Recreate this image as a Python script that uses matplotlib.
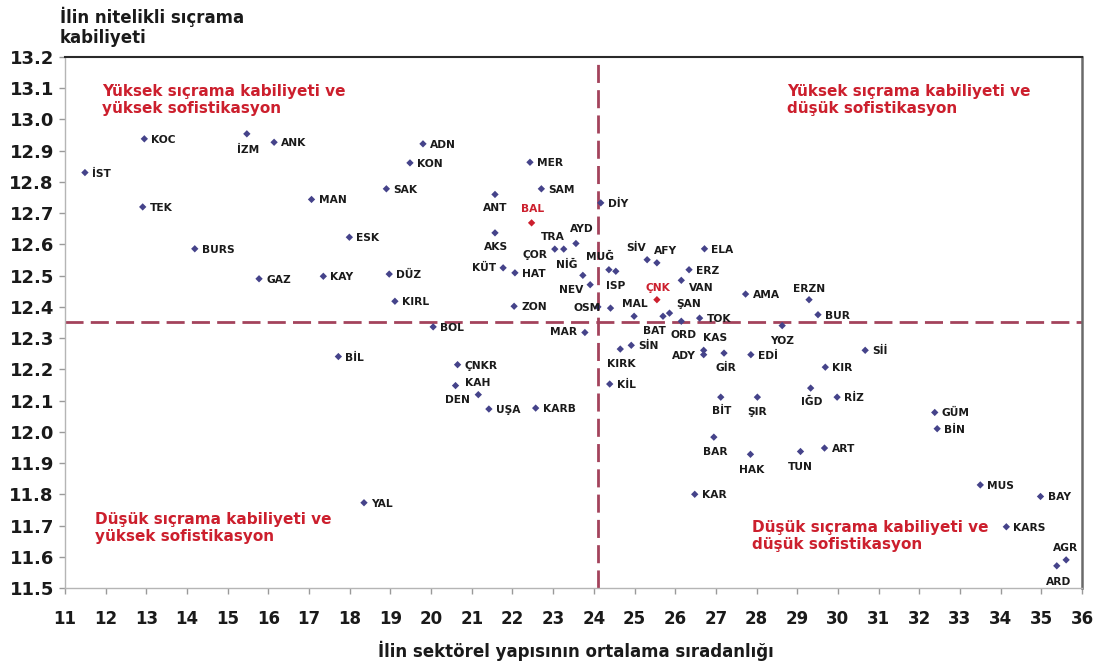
import matplotlib
matplotlib.use("Agg")
import matplotlib.pyplot as plt

# ---------------- data ----------------
names = ["İST", "KOC", "TEK", "İZM", "ANK", "MAN", "BURS", "GAZ", "KAY", "ESK",
         "SAK", "KON", "ADN", "DÜZ", "KIRL", "BOL", "BİL", "ÇNKR", "KAH", "DEN",
         "UŞA", "KARB", "YAL", "MER", "SAM", "ANT", "BAL", "AKS", "ÇOR", "TRA",
         "AYD", "KÜT", "HAT", "NİĞ", "MUĞ", "ISP", "NEV", "ZON", "OSM", "MAL",
         "MAR", "DİY", "SİV", "AFY", "ELA", "ERZ", "VAN", "ÇNK", "ŞAN", "",
         "AMA", "ERZN", "BUR", "BAT", "ORD", "TOK", "KAS", "ADY", "GİR", "SİN",
         "KIRK", "KİL", "EDİ", "YOZ", "Sİİ", "KIR", "IĞD", "RİZ", "BİT", "ŞIR",
         "BAR", "HAK", "TUN", "ART", "KAR", "GÜM", "BİN", "MUS", "BAY", "KARS",
         "AGR", "ARD"]

sophistication_rank = [
    11.49, 12.95, 12.91, 15.47, 16.14, 17.06, 14.19, 15.77, 17.35, 17.99,
    18.90, 19.48, 19.80, 18.97, 19.11, 20.05, 17.72, 20.65, 20.60, 21.16,
    21.42, 22.57, 18.35, 22.43, 22.71, 21.57, 22.47, 21.57, 23.04, 23.26,
    23.56, 21.77, 22.06, 23.73, 24.37, 24.54, 23.91, 22.04, 24.10, 24.41,
    23.78, 24.17, 25.31, 25.55, 26.72, 26.34, 26.15, 25.55, 25.86, 25.70,
    27.73, 29.29, 29.51, 24.99, 26.15, 26.60, 26.70, 26.70, 27.20, 24.92,
    24.65, 24.39, 27.86, 28.63, 30.67, 29.69, 29.33, 29.98, 27.12, 28.02,
    26.95, 27.85, 29.08, 29.67, 26.48, 32.38, 32.44, 33.50, 34.98, 34.14,
    35.61, 35.38]

jump_capability = [
    12.830, 12.938, 12.720, 12.954, 12.927, 12.744, 12.586, 12.490, 12.498, 12.623,
    12.778, 12.861, 12.922, 12.505, 12.418, 12.336, 12.241, 12.215, 12.148, 12.119,
    12.073, 12.076, 11.773, 12.863, 12.778, 12.760, 12.669, 12.637, 12.585, 12.585,
    12.603, 12.525, 12.509, 12.501, 12.519, 12.514, 12.471, 12.402, 12.400, 12.396,
    12.318, 12.733, 12.551, 12.541, 12.586, 12.519, 12.485, 12.423, 12.380, 12.370,
    12.441, 12.423, 12.375, 12.370, 12.354, 12.364, 12.261, 12.247, 12.252, 12.277,
    12.265, 12.153, 12.247, 12.340, 12.261, 12.207, 12.140, 12.111, 12.111, 12.111,
    11.983, 11.928, 11.937, 11.948, 11.800, 12.062, 12.010, 11.830, 11.793, 11.696,
    11.590, 11.571]

highlighted = ["BAL", "ÇNK"]

x_threshold = 24.1
y_threshold = 12.35

x_ticks = list(range(11, 37))
y_ticks = [11.5, 11.6, 11.7, 11.8, 11.9, 12.0, 12.1, 12.2, 12.3, 12.4, 12.5,
           12.6, 12.7, 12.8, 12.9, 13.0, 13.1, 13.2]

quadrant_texts = ["Yüksek sıçrama kabiliyeti ve\nyüksek sofistikasyon",
                  "Yüksek sıçrama kabiliyeti ve\ndüşük sofistikasyon",
                  "Düşük sıçrama kabiliyeti ve\nyüksek sofistikasyon",
                  "Düşük sıçrama kabiliyeti ve\ndüşük sofistikasyon"]

y_title = "İlin nitelikli sıçrama\nkabiliyeti"
x_title = "İlin sektörel yapısının ortalama sıradanlığı"

# ---------------- styling / layout ----------------
# label placement: (ha, dx_px, dy_px) relative to the point (dy positive = down)
label_pos = {
    "İZM": ("center", 1, 16), "ANT": ("center", 0, 14), "BAL": ("center", 1, -14),
    "AKS": ("center", 1, 14), "TRA": ("center", -11, -12), "ÇOR": ("right", -7, 6),
    "AYD": ("center", 6, -14), "KÜT": ("right", -7, 0), "NİĞ": ("right", -5, -10),
    "MUĞ": ("center", -9, -13), "ISP": ("center", 0, 15), "NEV": ("right", -7, 5),
    "OSM": ("right", 3, 1), "MAL": ("left", 11, -4), "MAR": ("right", -8, 0),
    "SİV": ("center", -11, -12), "AFY": ("center", 9, -12), "VAN": ("left", 8, 8),
    "ÇNK": ("center", 1, -12), "ŞAN": ("left", 7, -9), "ERZN": ("center", 0, -11),
    "BAT": ("center", 20, 15), "ORD": ("center", 2, 14), "KAS": ("center", 11, -12),
    "ADY": ("right", -8, 1), "GİR": ("center", 2, 15), "KIRK": ("center", 1, 15),
    "YOZ": ("center", 0, 15), "IĞD": ("center", 1, 14), "BİT": ("center", 1, 14),
    "ŞIR": ("center", 0, 15), "BAR": ("center", 1, 15), "HAK": ("center", 1, 16),
    "TUN": ("center", 0, 15), "AGR": ("center", -1, -12), "ARD": ("center", 2, 16),
    "DEN": ("right", -8, 5), "KAH": ("left", 9, -3),
}
default_pos = ("left", 7, 1)

marker_color = "#45438a"
red = "#cc1f2d"
dash_color = "#a3435c"
label_color = "#1a1a1a"

plt.rcParams["font.family"] = ["DejaVu Sans"]

W, H = 1095, 666
fig = plt.figure(figsize=(W / 100, H / 100), dpi=100)
ax_l, ax_r, ax_t, ax_b = 65, 1082, 57, 588
ax = fig.add_axes([ax_l / W, 1 - ax_b / H, (ax_r - ax_l) / W, (ax_b - ax_t) / H])

ax.set_xlim(11, 36)
ax.set_ylim(11.5, 13.2)

# threshold lines
ax.axvline(x_threshold, color=dash_color, lw=2.0, ls=(0, (6.5, 2.6)), zorder=1)
ax.axhline(y_threshold, color=dash_color, lw=2.0, ls=(0, (6.5, 2.6)), zorder=1)

# points
cols = [red if n in highlighted else marker_color for n in names]
ax.scatter(sophistication_rank, jump_capability, marker="D", s=14, c=cols,
           linewidths=0, zorder=3)

px2pt = 0.72
for n, xv, yv in zip(names, sophistication_rank, jump_capability):
    if not n:
        continue
    ha, dx, dy = label_pos.get(n, default_pos)
    kw = {}
    if n == "AGR":
        kw["bbox"] = dict(fc="white", ec="none", pad=2.2)
    ax.annotate(n, (xv, yv), xytext=(dx * px2pt, -dy * px2pt),
                textcoords="offset points", ha=ha, va="center",
                fontsize=7.7, fontweight="bold",
                color=red if n in highlighted else label_color,
                zorder=4, annotation_clip=False, **kw)

# quadrant descriptions
q_pos = [(11.91, 13.112), (28.76, 13.112), (11.74, 11.744), (27.88, 11.718)]
for t, (qx, qy) in zip(quadrant_texts, q_pos):
    ax.text(qx, qy, t, ha="left", va="top", fontsize=11, fontweight="bold",
            color=red, linespacing=1.15, zorder=4)

# axes styling
ax.set_xticks(x_ticks)
ax.set_yticks(y_ticks)
ax.set_yticklabels([f"{v:.1f}" for v in y_ticks])
ax.tick_params(axis="x", direction="out", length=4, width=1, color="#9a9a9a",
               pad=12, labelsize=12)
ax.tick_params(axis="y", direction="out", length=4, width=1, color="#9a9a9a",
               pad=4, labelsize=13)
for lab in ax.get_xticklabels() + ax.get_yticklabels():
    lab.set_fontweight("bold")
    lab.set_color("#1a1a1a")

ax.spines["left"].set_color("#b5b5b5")
ax.spines["bottom"].set_color("#b5b5b5")
ax.spines["left"].set_linewidth(1.0)
ax.spines["bottom"].set_linewidth(1.0)
ax.spines["top"].set_color("#2a2a2a")
ax.spines["top"].set_linewidth(1.5)
ax.spines["right"].set_color("#6a6a6a")
ax.spines["right"].set_linewidth(1.8)

fig.text(60 / W, 1 - 7 / H, y_title, ha="left", va="top", fontsize=12,
         fontweight="bold", color="#1a1a1a", linespacing=1.1)
fig.text(576 / W, 1 - 651 / H, x_title, ha="center", va="center", fontsize=12,
         fontweight="bold", color="#1a1a1a")

fig.savefig("out.png", dpi=100, facecolor="white")
